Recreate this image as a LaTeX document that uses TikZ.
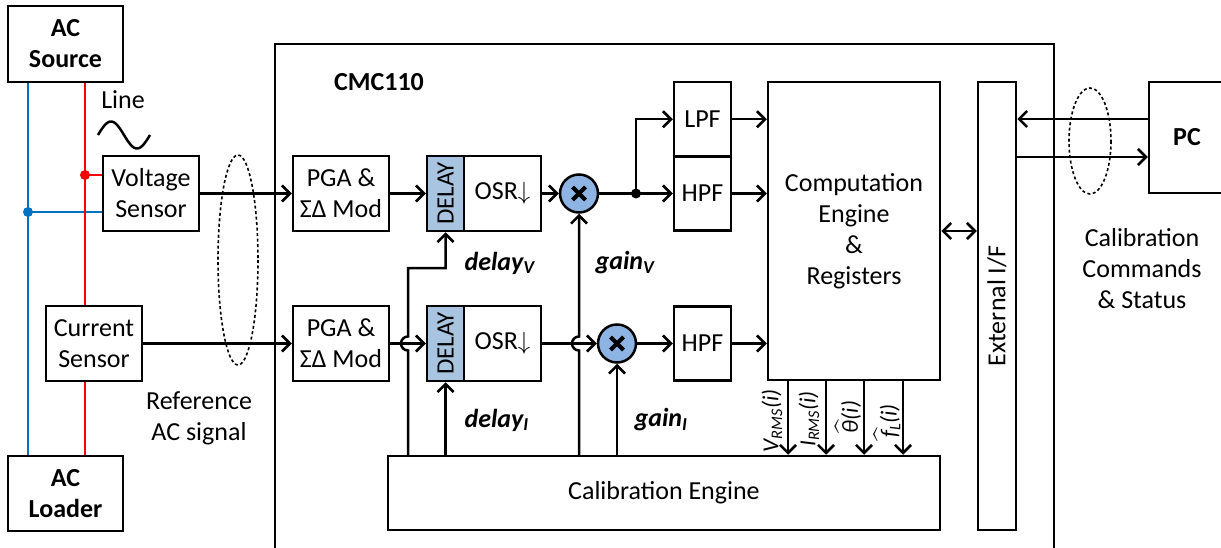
\documentclass[tikz,border=0pt]{standalone}
\usepackage{fontspec}
\usepackage{amsmath}
\setmainfont{Carlito}
\usetikzlibrary{arrows.meta,calc}
\definecolor{redw}{HTML}{FF0000}
\definecolor{bluew}{HTML}{0070C0}
\definecolor{multfill}{HTML}{8DB4E2}
\definecolor{delayfill}{HTML}{A9C4E0}
\newcommand\bigf{\fontsize{26}{31}\selectfont}
\newcommand\midf{\fontsize{23}{27}\selectfont}
\begin{document}
\begin{tikzpicture}[x=1pt,y=-1pt,line width=2.5pt,font=\bigf,
  box/.style={draw,rectangle,inner sep=0pt,align=center},
  arr/.style={-{Straight Barb[length=8pt,width=16pt]}},
  biarr/.style={{Straight Barb[length=8pt,width=16pt]}-{Straight Barb[length=8pt,width=16pt]}},
  mult/.style={circle,draw,fill=multfill,minimum size=38pt,inner sep=0pt},
  delaybox/.style={box,fill=delayfill,minimum width=37pt,minimum height=75pt},
  osrbox/.style={box,minimum width=77pt,minimum height=75pt},
  ell/.style={line width=1.6pt,dash pattern=on 3pt off 2.5pt},
  lbl/.style={font=\bfseries\itshape\bigf,anchor=west},
  rlbl/.style={rotate=90,font=\itshape\midf}]
\useasboundingbox (0,0) rectangle (1221,548);

% outer chip
\node[box,minimum width=779pt,minimum height=516pt] (cmc) at (664.5,302) {};
\node[font=\bfseries\bigf] (cmclbl) at (379,82) {CMC110};

% left side
\node[box,minimum width=115pt,minimum height=76pt,font=\bfseries\bigf] (acs) at (65.5,44) {AC\\Source};
\node[box,minimum width=115pt,minimum height=75pt,font=\bfseries\bigf] (acl) at (65.5,493.5) {AC\\Loader};
\node[box,minimum width=96pt,minimum height=75pt] (vs) at (151,193.5) {Voltage\\Sensor};
\node[box,minimum width=96pt,minimum height=75pt] (is) at (94,343.5) {Current\\Sensor};
\node (linelbl) at (123,100) {Line};
\draw[line width=2.5pt] plot[domain=0:1,samples=40,smooth] ({98+52*\x},{135-13.5*sin(360*\x)});

\draw[bluew] (acs.south -| 28,0) -- (acl.north -| 28,0);
\coordinate (bdot) at (28,212);
\fill[bluew] (bdot) circle (5);
\draw[bluew] (bdot) -- (vs.west |- bdot);
\draw[redw] (acs.south -| 85,0) -- (is.north -| 85,0);
\draw[redw] (is.south -| 85,0) -- (acl.north -| 85,0);
\coordinate (rdot) at (85,175);
\fill[redw] (rdot) circle (5);
\draw[redw] (rdot) -- (vs.west |- rdot);

\draw[ell] (238,260) ellipse[x radius=20,y radius=105];
\node[align=center] (reflbl) at (199,418) {Reference\\AC signal};

% front ends
\node[box,minimum width=96pt,minimum height=75pt] (pga1) at (341,193.5) {PGA \&\\ΣΔ Mod};
\node[box,minimum width=96pt,minimum height=75pt] (pga2) at (341,343.5) {PGA \&\\ΣΔ Mod};
\node[delaybox] (dl1) at (445.5,193.5) {};
\node[rotate=90,font=\fontsize{25}{28}\selectfont] at (dl1) {DELAY};
\node[osrbox] (osr1) at (502.5,193.5) {OSR$\downarrow$};
\node[delaybox] (dl2) at (445.5,343.5) {};
\node[rotate=90,font=\fontsize{25}{28}\selectfont] at (dl2) {DELAY};
\node[osrbox] (osr2) at (502.5,343.5) {OSR$\downarrow$};

\node[mult] (m1) at (579,193.5) {};
\node[mult] (m2) at (617,343.5) {};
\foreach \m in {m1,m2}{
  \draw[line width=4pt] ($(\m)+(-6.5,-6.5)$) -- ($(\m)+(6.5,6.5)$);
  \draw[line width=4pt] ($(\m)+(-6.5,6.5)$) -- ($(\m)+(6.5,-6.5)$);
}

\node[box,minimum width=57pt,minimum height=74.5pt] (lpf) at (702.5,119.25) {LPF};
\node[box,minimum width=57pt,minimum height=74pt] (hpf1) at (702.5,193.5) {HPF};
\node[box,minimum width=57pt,minimum height=74pt] (hpf2) at (702.5,343.5) {HPF};

\node[box,minimum width=172pt,minimum height=298pt] (comp) at (854,231) {Computation\\Engine\\\&\\Registers};
\node[box,minimum width=38pt,minimum height=448pt] (ext) at (997,306) {};
\node[rotate=90] at (ext) {External I/F};
\node[box,minimum width=552pt,minimum height=74pt] (calib) at (664,493) {Calibration Engine};

\node[box,minimum width=76pt,minimum height=111pt,font=\bfseries\bigf] (pc) at (1187,137.5) {PC};
\draw[ell] (1090,141) ellipse[x radius=21,y radius=53];
\node[align=center] (cmdlbl) at (1142,269) {Calibration\\Commands\\\& Status};

% signal flow
\draw[arr] (vs) -- (pga1);
\draw[arr] (is) -- (pga2);
\draw[arr] (pga1) -- (dl1);
\draw[arr] (pga2) -- (dl2);
\draw[arr] (osr1) -- (m1);
\draw[arr] (osr2) -- (m2);
\coordinate (sdot) at (636,193.5);
\draw (m1) -- (sdot);
\fill (sdot) circle (5);
\draw[arr] (sdot) -- (hpf1);
\draw[arr] (sdot) |- (lpf.west);
\draw[arr] (m2) -- (hpf2);
\draw[arr] (lpf.east) -- (lpf.east -| comp.west);
\draw[arr] (hpf1.east) -- (hpf1.east -| comp.west);
\draw[arr] (hpf2.east) -- (hpf2.east -| comp.west);

% control from calibration engine
\coordinate (cdv) at (408,456);
\coordinate (cdi) at (445.5,456);
\coordinate (cgv) at (579,456);
\coordinate (cgi) at (617,456);
\draw[arr] (cdv) -- (408,350.5) arc[start angle=90,end angle=270,radius=7] -- (408,268) -| (dl1.south);
\draw[arr] (cdi) -- (dl2.south);
\draw[arr] (cgv) -- (579,350.5) arc[start angle=90,end angle=270,radius=7] -- (m1.south);
\draw[arr] (cgi) -- (m2.south);
\node[lbl] at (460,263) {delay\textsubscript{V}};
\node[lbl] at (591,263) {gain\textsubscript{V}};
\node[lbl] at (460,420) {delay\textsubscript{I}};
\node[lbl] at (630,420) {gain\textsubscript{I}};

% computation to calibration
\foreach \x in {788,826,864,903}{
  \draw[arr] (comp.south -| \x,0) -- (calib.north -| \x,0);
}
\node[rlbl] at (772,421) {V\textsubscript{RMS}(i)};
\node[rlbl] at (809,419) {I\textsubscript{RMS}(i)};
\node[rlbl] at (848,417) {\ensuremath{\widehat{\text{θ}}}(i)};
\node[rlbl] at (887,421) {\ensuremath{\widehat{\text{f}}}\textsubscript{L}(i)};

% external interface
\draw[biarr] (comp.east) -- (comp.east -| ext.west);
\draw[arr] (pc.west |- 0,119) -- (ext.east |- 0,119);
\draw[arr] (ext.east |- 0,157) -- (pc.west |- 0,157);
\end{tikzpicture}
\end{document}
